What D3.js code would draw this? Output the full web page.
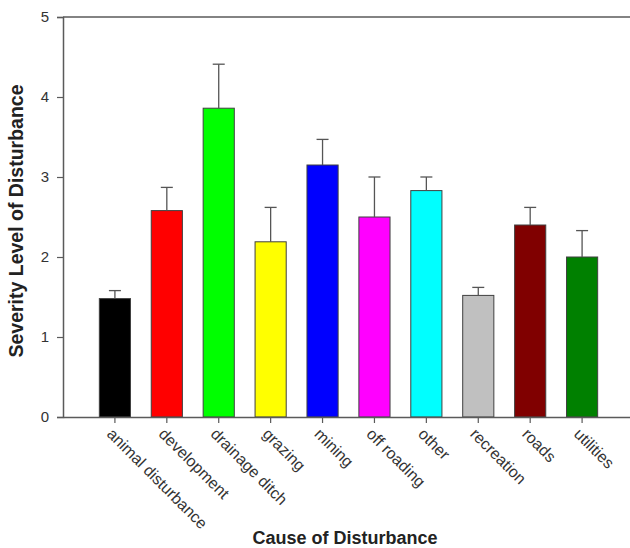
<!DOCTYPE html>
<html><head><meta charset="utf-8">
<script src="https://cdn.jsdelivr.net/npm/d3@7"></script>
<style>body{margin:0;background:#fff}svg{display:block}</style>
</head><body>
<svg id="c" width="630" height="548"></svg>
<script>
const categories = ["animal disturbance","development","drainage ditch","grazing","mining","off roading","other","recreation","roads","utilities"];
const means = [1.48, 2.58, 3.86, 2.19, 3.15, 2.50, 2.83, 1.52, 2.40, 2.00];
const errUpper = [1.58, 2.87, 4.41, 2.62, 3.47, 3.00, 3.00, 1.62, 2.62, 2.33];
const colors = ["#000000","#ff0000","#00ff00","#ffff00","#0000ff","#ff00ff","#00ffff","#c0c0c0","#800000","#008000"];
const yTicks = [0,1,2,3,4,5];

(function(){
const svg = d3.select("#c");
const mLeft = 63, mRight = 634, mTop = 17, mBottom = 417;
const x = d3.scaleBand().domain(categories).range([mLeft, mRight]).paddingInner(0.4).paddingOuter(0.7);
const y = d3.scaleLinear().domain([0,5]).range([mBottom, mTop]);
const axisCol = "#5a5a5a";
const font = "Arial, 'Liberation Sans', sans-serif";

// bars
svg.append("g").selectAll("rect").data(categories).join("rect")
  .attr("x", d => x(d)).attr("width", x.bandwidth())
  .attr("y", (d,i) => y(means[i])).attr("height", (d,i) => y(0) - y(means[i]))
  .attr("fill", (d,i) => colors[i]).attr("stroke", "#404040").attr("stroke-width", 1);

// error bars
const eb = svg.append("g").attr("stroke", "#555").attr("stroke-width", 1.3);
categories.forEach((c,i) => {
  const cx = x(c) + x.bandwidth()/2;
  eb.append("line").attr("x1", cx).attr("x2", cx).attr("y1", y(means[i])).attr("y2", y(errUpper[i]));
  eb.append("line").attr("x1", cx-6).attr("x2", cx+6).attr("y1", y(errUpper[i])).attr("y2", y(errUpper[i]));
});

// y axis
const ya = svg.append("g").attr("transform", `translate(${mLeft},0)`)
  .call(d3.axisLeft(y).tickValues(yTicks).tickFormat(d3.format("d")).tickSize(6).tickPadding(8));
ya.select(".domain").attr("stroke", axisCol).attr("stroke-width", 1.5);
ya.selectAll(".tick line").attr("stroke", axisCol).attr("stroke-width", 1.2);
ya.selectAll(".tick text").attr("font-family", font).attr("font-size", 15).attr("fill", "#333");

// x axis
const xa = svg.append("g").attr("transform", `translate(0,${mBottom})`)
  .call(d3.axisBottom(x).tickSize(6).tickSizeOuter(0));
xa.select(".domain").attr("stroke", axisCol).attr("stroke-width", 1.5);
xa.selectAll(".tick line").attr("stroke", axisCol).attr("stroke-width", 1.2);
xa.selectAll(".tick text")
  .attr("font-family", font).attr("font-size", 16).attr("fill", "#333")
  .attr("text-anchor", "start").attr("dy", null).attr("y", 0)
  .attr("transform", "translate(-9,18) rotate(45)");

// top frame line
svg.append("line").attr("x1", mLeft).attr("x2", 630).attr("y1", y(5)).attr("y2", y(5))
  .attr("stroke", axisCol).attr("stroke-width", 1.5);

// titles
svg.append("text").attr("x", 345).attr("y", 544).attr("text-anchor", "middle")
  .attr("font-family", font).attr("font-weight", "bold").attr("font-size", 18).attr("fill", "#222")
  .text("Cause of Disturbance");
svg.append("text").attr("transform", "translate(23,221) rotate(-90)").attr("text-anchor", "middle")
  .attr("font-family", font).attr("font-weight", "bold").attr("font-size", 19.5).attr("fill", "#222")
  .text("Severity Level of Disturbance");
})();
</script>
</body></html>
